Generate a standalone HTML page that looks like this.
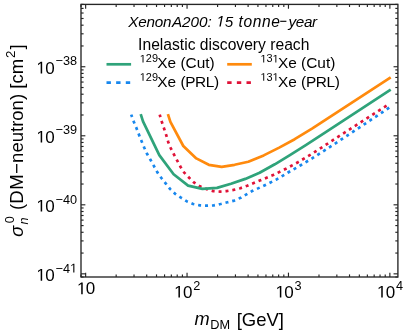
<!DOCTYPE html>
<html><head><meta charset="utf-8"><title>plot</title>
<style>html,body{margin:0;padding:0;background:#fff;}svg{display:block;will-change:transform;}text{font-family:"Liberation Sans",sans-serif;fill:#000;}</style>
</head><body>
<svg width="407" height="335" viewBox="0 0 407 335">
<rect x="0" y="0" width="407" height="335" fill="#ffffff"/>
<path d="M131.20,114.60 L133.80,121.70 L136.50,128.20 L139.00,134.80 L141.70,141.50 L144.20,147.50 L147.10,154.00 L150.60,160.00 L154.00,166.20 L157.40,172.40 L161.40,178.00 L165.80,183.60 L170.20,189.10 L175.10,193.80 L181.00,197.70 L187.00,201.40 L193.10,204.00 L199.90,205.40 L206.80,205.70 L213.70,205.40 L220.60,204.00 L227.50,202.30 L234.30,200.60 L241.20,197.50 L251.60,191.30 L263.70,185.80 L275.90,179.80 L288.10,172.50 L300.20,165.50 L312.40,158.20 L324.60,150.40 L337.40,142.10 L389.50,107.50" fill="none" stroke="#1787ee" stroke-width="2.7" stroke-linejoin="round" stroke-linecap="butt" stroke-dasharray="3.0 3.925" stroke-dashoffset="0.4"/>
<path d="M159.70,114.60 L161.90,122.00 L164.10,128.60 L166.30,135.30 L168.20,141.90 L170.70,148.10 L173.90,154.40 L177.20,160.60 L180.60,167.00 L184.20,172.60 L189.10,177.70 L193.80,182.40 L199.90,186.30 L206.50,189.10 L213.20,191.10 L220.10,191.60 L226.60,191.10 L233.50,189.90 L240.40,188.20 L247.20,185.80 L260.40,180.30 L273.70,174.80 L285.90,168.80 L298.00,162.20 L310.20,154.90 L322.40,147.10 L333.00,140.10 L388.50,104.40" fill="none" stroke="#e01237" stroke-width="2.7" stroke-linejoin="round" stroke-linecap="butt" stroke-dasharray="3.0 3.945" stroke-dashoffset="0.4"/>
<path d="M140.70,114.10 L143.00,121.40 L159.30,155.10 L173.60,174.30 L188.10,185.60 L202.40,188.90 L217.00,187.90 L231.00,183.80 L245.30,178.90 L259.60,172.80 L274.80,164.30 L290.30,154.80 L305.80,145.10 L325.00,132.70 L390.70,89.65" fill="none" stroke="#2fa37a" stroke-width="2.7" stroke-linejoin="round" stroke-linecap="butt"/>
<path d="M167.90,114.10 L170.40,121.90 L183.30,146.00 L196.30,158.40 L208.80,164.80 L221.70,166.80 L234.60,164.80 L248.30,161.80 L263.70,155.40 L279.20,147.60 L294.70,139.20 L312.00,128.70 L390.70,77.45" fill="none" stroke="#ff8a0d" stroke-width="2.7" stroke-linejoin="round" stroke-linecap="butt"/>
<line x1="81.00" y1="277.00" x2="81.00" y2="274.40" stroke="#262626" stroke-width="1.15"/>
<line x1="81.00" y1="4.40" x2="81.00" y2="7.00" stroke="#262626" stroke-width="1.15"/>
<line x1="85.64" y1="277.00" x2="85.64" y2="272.65" stroke="#262626" stroke-width="1.15"/>
<line x1="85.64" y1="4.40" x2="85.64" y2="8.75" stroke="#262626" stroke-width="1.15"/>
<line x1="116.17" y1="277.00" x2="116.17" y2="274.40" stroke="#262626" stroke-width="1.15"/>
<line x1="116.17" y1="4.40" x2="116.17" y2="7.00" stroke="#262626" stroke-width="1.15"/>
<line x1="134.03" y1="277.00" x2="134.03" y2="274.40" stroke="#262626" stroke-width="1.15"/>
<line x1="134.03" y1="4.40" x2="134.03" y2="7.00" stroke="#262626" stroke-width="1.15"/>
<line x1="146.70" y1="277.00" x2="146.70" y2="274.40" stroke="#262626" stroke-width="1.15"/>
<line x1="146.70" y1="4.40" x2="146.70" y2="7.00" stroke="#262626" stroke-width="1.15"/>
<line x1="156.52" y1="277.00" x2="156.52" y2="274.40" stroke="#262626" stroke-width="1.15"/>
<line x1="156.52" y1="4.40" x2="156.52" y2="7.00" stroke="#262626" stroke-width="1.15"/>
<line x1="164.55" y1="277.00" x2="164.55" y2="274.40" stroke="#262626" stroke-width="1.15"/>
<line x1="164.55" y1="4.40" x2="164.55" y2="7.00" stroke="#262626" stroke-width="1.15"/>
<line x1="171.34" y1="277.00" x2="171.34" y2="274.40" stroke="#262626" stroke-width="1.15"/>
<line x1="171.34" y1="4.40" x2="171.34" y2="7.00" stroke="#262626" stroke-width="1.15"/>
<line x1="177.22" y1="277.00" x2="177.22" y2="274.40" stroke="#262626" stroke-width="1.15"/>
<line x1="177.22" y1="4.40" x2="177.22" y2="7.00" stroke="#262626" stroke-width="1.15"/>
<line x1="182.41" y1="277.00" x2="182.41" y2="274.40" stroke="#262626" stroke-width="1.15"/>
<line x1="182.41" y1="4.40" x2="182.41" y2="7.00" stroke="#262626" stroke-width="1.15"/>
<line x1="187.05" y1="277.00" x2="187.05" y2="272.65" stroke="#262626" stroke-width="1.15"/>
<line x1="187.05" y1="4.40" x2="187.05" y2="8.75" stroke="#262626" stroke-width="1.15"/>
<line x1="217.58" y1="277.00" x2="217.58" y2="274.40" stroke="#262626" stroke-width="1.15"/>
<line x1="217.58" y1="4.40" x2="217.58" y2="7.00" stroke="#262626" stroke-width="1.15"/>
<line x1="235.44" y1="277.00" x2="235.44" y2="274.40" stroke="#262626" stroke-width="1.15"/>
<line x1="235.44" y1="4.40" x2="235.44" y2="7.00" stroke="#262626" stroke-width="1.15"/>
<line x1="248.11" y1="277.00" x2="248.11" y2="274.40" stroke="#262626" stroke-width="1.15"/>
<line x1="248.11" y1="4.40" x2="248.11" y2="7.00" stroke="#262626" stroke-width="1.15"/>
<line x1="257.93" y1="277.00" x2="257.93" y2="274.40" stroke="#262626" stroke-width="1.15"/>
<line x1="257.93" y1="4.40" x2="257.93" y2="7.00" stroke="#262626" stroke-width="1.15"/>
<line x1="265.96" y1="277.00" x2="265.96" y2="274.40" stroke="#262626" stroke-width="1.15"/>
<line x1="265.96" y1="4.40" x2="265.96" y2="7.00" stroke="#262626" stroke-width="1.15"/>
<line x1="272.75" y1="277.00" x2="272.75" y2="274.40" stroke="#262626" stroke-width="1.15"/>
<line x1="272.75" y1="4.40" x2="272.75" y2="7.00" stroke="#262626" stroke-width="1.15"/>
<line x1="278.63" y1="277.00" x2="278.63" y2="274.40" stroke="#262626" stroke-width="1.15"/>
<line x1="278.63" y1="4.40" x2="278.63" y2="7.00" stroke="#262626" stroke-width="1.15"/>
<line x1="283.82" y1="277.00" x2="283.82" y2="274.40" stroke="#262626" stroke-width="1.15"/>
<line x1="283.82" y1="4.40" x2="283.82" y2="7.00" stroke="#262626" stroke-width="1.15"/>
<line x1="288.46" y1="277.00" x2="288.46" y2="272.65" stroke="#262626" stroke-width="1.15"/>
<line x1="288.46" y1="4.40" x2="288.46" y2="8.75" stroke="#262626" stroke-width="1.15"/>
<line x1="318.99" y1="277.00" x2="318.99" y2="274.40" stroke="#262626" stroke-width="1.15"/>
<line x1="318.99" y1="4.40" x2="318.99" y2="7.00" stroke="#262626" stroke-width="1.15"/>
<line x1="336.85" y1="277.00" x2="336.85" y2="274.40" stroke="#262626" stroke-width="1.15"/>
<line x1="336.85" y1="4.40" x2="336.85" y2="7.00" stroke="#262626" stroke-width="1.15"/>
<line x1="349.52" y1="277.00" x2="349.52" y2="274.40" stroke="#262626" stroke-width="1.15"/>
<line x1="349.52" y1="4.40" x2="349.52" y2="7.00" stroke="#262626" stroke-width="1.15"/>
<line x1="359.34" y1="277.00" x2="359.34" y2="274.40" stroke="#262626" stroke-width="1.15"/>
<line x1="359.34" y1="4.40" x2="359.34" y2="7.00" stroke="#262626" stroke-width="1.15"/>
<line x1="367.37" y1="277.00" x2="367.37" y2="274.40" stroke="#262626" stroke-width="1.15"/>
<line x1="367.37" y1="4.40" x2="367.37" y2="7.00" stroke="#262626" stroke-width="1.15"/>
<line x1="374.16" y1="277.00" x2="374.16" y2="274.40" stroke="#262626" stroke-width="1.15"/>
<line x1="374.16" y1="4.40" x2="374.16" y2="7.00" stroke="#262626" stroke-width="1.15"/>
<line x1="380.04" y1="277.00" x2="380.04" y2="274.40" stroke="#262626" stroke-width="1.15"/>
<line x1="380.04" y1="4.40" x2="380.04" y2="7.00" stroke="#262626" stroke-width="1.15"/>
<line x1="385.23" y1="277.00" x2="385.23" y2="274.40" stroke="#262626" stroke-width="1.15"/>
<line x1="385.23" y1="4.40" x2="385.23" y2="7.00" stroke="#262626" stroke-width="1.15"/>
<line x1="389.87" y1="277.00" x2="389.87" y2="272.65" stroke="#262626" stroke-width="1.15"/>
<line x1="389.87" y1="4.40" x2="389.87" y2="8.75" stroke="#262626" stroke-width="1.15"/>
<line x1="81.00" y1="277.00" x2="83.60" y2="277.00" stroke="#262626" stroke-width="1.15"/>
<line x1="397.90" y1="277.00" x2="395.30" y2="277.00" stroke="#262626" stroke-width="1.15"/>
<line x1="81.00" y1="273.84" x2="85.35" y2="273.84" stroke="#262626" stroke-width="1.15"/>
<line x1="397.90" y1="273.84" x2="393.55" y2="273.84" stroke="#262626" stroke-width="1.15"/>
<line x1="81.00" y1="253.06" x2="83.60" y2="253.06" stroke="#262626" stroke-width="1.15"/>
<line x1="397.90" y1="253.06" x2="395.30" y2="253.06" stroke="#262626" stroke-width="1.15"/>
<line x1="81.00" y1="240.90" x2="83.60" y2="240.90" stroke="#262626" stroke-width="1.15"/>
<line x1="397.90" y1="240.90" x2="395.30" y2="240.90" stroke="#262626" stroke-width="1.15"/>
<line x1="81.00" y1="232.28" x2="83.60" y2="232.28" stroke="#262626" stroke-width="1.15"/>
<line x1="397.90" y1="232.28" x2="395.30" y2="232.28" stroke="#262626" stroke-width="1.15"/>
<line x1="81.00" y1="225.59" x2="83.60" y2="225.59" stroke="#262626" stroke-width="1.15"/>
<line x1="397.90" y1="225.59" x2="395.30" y2="225.59" stroke="#262626" stroke-width="1.15"/>
<line x1="81.00" y1="220.12" x2="83.60" y2="220.12" stroke="#262626" stroke-width="1.15"/>
<line x1="397.90" y1="220.12" x2="395.30" y2="220.12" stroke="#262626" stroke-width="1.15"/>
<line x1="81.00" y1="215.50" x2="83.60" y2="215.50" stroke="#262626" stroke-width="1.15"/>
<line x1="397.90" y1="215.50" x2="395.30" y2="215.50" stroke="#262626" stroke-width="1.15"/>
<line x1="81.00" y1="211.50" x2="83.60" y2="211.50" stroke="#262626" stroke-width="1.15"/>
<line x1="397.90" y1="211.50" x2="395.30" y2="211.50" stroke="#262626" stroke-width="1.15"/>
<line x1="81.00" y1="207.97" x2="83.60" y2="207.97" stroke="#262626" stroke-width="1.15"/>
<line x1="397.90" y1="207.97" x2="395.30" y2="207.97" stroke="#262626" stroke-width="1.15"/>
<line x1="81.00" y1="204.81" x2="85.35" y2="204.81" stroke="#262626" stroke-width="1.15"/>
<line x1="397.90" y1="204.81" x2="393.55" y2="204.81" stroke="#262626" stroke-width="1.15"/>
<line x1="81.00" y1="184.03" x2="83.60" y2="184.03" stroke="#262626" stroke-width="1.15"/>
<line x1="397.90" y1="184.03" x2="395.30" y2="184.03" stroke="#262626" stroke-width="1.15"/>
<line x1="81.00" y1="171.87" x2="83.60" y2="171.87" stroke="#262626" stroke-width="1.15"/>
<line x1="397.90" y1="171.87" x2="395.30" y2="171.87" stroke="#262626" stroke-width="1.15"/>
<line x1="81.00" y1="163.25" x2="83.60" y2="163.25" stroke="#262626" stroke-width="1.15"/>
<line x1="397.90" y1="163.25" x2="395.30" y2="163.25" stroke="#262626" stroke-width="1.15"/>
<line x1="81.00" y1="156.56" x2="83.60" y2="156.56" stroke="#262626" stroke-width="1.15"/>
<line x1="397.90" y1="156.56" x2="395.30" y2="156.56" stroke="#262626" stroke-width="1.15"/>
<line x1="81.00" y1="151.09" x2="83.60" y2="151.09" stroke="#262626" stroke-width="1.15"/>
<line x1="397.90" y1="151.09" x2="395.30" y2="151.09" stroke="#262626" stroke-width="1.15"/>
<line x1="81.00" y1="146.47" x2="83.60" y2="146.47" stroke="#262626" stroke-width="1.15"/>
<line x1="397.90" y1="146.47" x2="395.30" y2="146.47" stroke="#262626" stroke-width="1.15"/>
<line x1="81.00" y1="142.47" x2="83.60" y2="142.47" stroke="#262626" stroke-width="1.15"/>
<line x1="397.90" y1="142.47" x2="395.30" y2="142.47" stroke="#262626" stroke-width="1.15"/>
<line x1="81.00" y1="138.93" x2="83.60" y2="138.93" stroke="#262626" stroke-width="1.15"/>
<line x1="397.90" y1="138.93" x2="395.30" y2="138.93" stroke="#262626" stroke-width="1.15"/>
<line x1="81.00" y1="135.78" x2="85.35" y2="135.78" stroke="#262626" stroke-width="1.15"/>
<line x1="397.90" y1="135.78" x2="393.55" y2="135.78" stroke="#262626" stroke-width="1.15"/>
<line x1="81.00" y1="114.99" x2="83.60" y2="114.99" stroke="#262626" stroke-width="1.15"/>
<line x1="397.90" y1="114.99" x2="395.30" y2="114.99" stroke="#262626" stroke-width="1.15"/>
<line x1="81.00" y1="102.84" x2="83.60" y2="102.84" stroke="#262626" stroke-width="1.15"/>
<line x1="397.90" y1="102.84" x2="395.30" y2="102.84" stroke="#262626" stroke-width="1.15"/>
<line x1="81.00" y1="94.21" x2="83.60" y2="94.21" stroke="#262626" stroke-width="1.15"/>
<line x1="397.90" y1="94.21" x2="395.30" y2="94.21" stroke="#262626" stroke-width="1.15"/>
<line x1="81.00" y1="87.52" x2="83.60" y2="87.52" stroke="#262626" stroke-width="1.15"/>
<line x1="397.90" y1="87.52" x2="395.30" y2="87.52" stroke="#262626" stroke-width="1.15"/>
<line x1="81.00" y1="82.06" x2="83.60" y2="82.06" stroke="#262626" stroke-width="1.15"/>
<line x1="397.90" y1="82.06" x2="395.30" y2="82.06" stroke="#262626" stroke-width="1.15"/>
<line x1="81.00" y1="77.44" x2="83.60" y2="77.44" stroke="#262626" stroke-width="1.15"/>
<line x1="397.90" y1="77.44" x2="395.30" y2="77.44" stroke="#262626" stroke-width="1.15"/>
<line x1="81.00" y1="73.43" x2="83.60" y2="73.43" stroke="#262626" stroke-width="1.15"/>
<line x1="397.90" y1="73.43" x2="395.30" y2="73.43" stroke="#262626" stroke-width="1.15"/>
<line x1="81.00" y1="69.90" x2="83.60" y2="69.90" stroke="#262626" stroke-width="1.15"/>
<line x1="397.90" y1="69.90" x2="395.30" y2="69.90" stroke="#262626" stroke-width="1.15"/>
<line x1="81.00" y1="66.74" x2="85.35" y2="66.74" stroke="#262626" stroke-width="1.15"/>
<line x1="397.90" y1="66.74" x2="393.55" y2="66.74" stroke="#262626" stroke-width="1.15"/>
<line x1="81.00" y1="45.96" x2="83.60" y2="45.96" stroke="#262626" stroke-width="1.15"/>
<line x1="397.90" y1="45.96" x2="395.30" y2="45.96" stroke="#262626" stroke-width="1.15"/>
<line x1="81.00" y1="33.81" x2="83.60" y2="33.81" stroke="#262626" stroke-width="1.15"/>
<line x1="397.90" y1="33.81" x2="395.30" y2="33.81" stroke="#262626" stroke-width="1.15"/>
<line x1="81.00" y1="25.18" x2="83.60" y2="25.18" stroke="#262626" stroke-width="1.15"/>
<line x1="397.90" y1="25.18" x2="395.30" y2="25.18" stroke="#262626" stroke-width="1.15"/>
<line x1="81.00" y1="18.49" x2="83.60" y2="18.49" stroke="#262626" stroke-width="1.15"/>
<line x1="397.90" y1="18.49" x2="395.30" y2="18.49" stroke="#262626" stroke-width="1.15"/>
<line x1="81.00" y1="13.02" x2="83.60" y2="13.02" stroke="#262626" stroke-width="1.15"/>
<line x1="397.90" y1="13.02" x2="395.30" y2="13.02" stroke="#262626" stroke-width="1.15"/>
<line x1="81.00" y1="8.40" x2="83.60" y2="8.40" stroke="#262626" stroke-width="1.15"/>
<line x1="397.90" y1="8.40" x2="395.30" y2="8.40" stroke="#262626" stroke-width="1.15"/>
<line x1="81.00" y1="4.40" x2="83.60" y2="4.40" stroke="#262626" stroke-width="1.15"/>
<line x1="397.90" y1="4.40" x2="395.30" y2="4.40" stroke="#262626" stroke-width="1.15"/>
<rect x="81.0" y="4.4" width="316.90" height="272.60" fill="none" stroke="#262626" stroke-width="1.35"/>
<path d="M40.67,73.54 L40.67,63.27 L38.03,65.16 L38.03,63.75 L40.80,61.85 L42.17,61.85 L42.17,73.54Z" fill="#000"/>
<text x="45.15" y="73.54" font-size="17.0">0</text>
<text x="55.6" y="65.44" font-size="12.7">−38</text>
<path d="M40.67,142.58 L40.67,132.31 L38.03,134.19 L38.03,132.78 L40.80,130.88 L42.17,130.88 L42.17,142.58Z" fill="#000"/>
<text x="45.15" y="142.58" font-size="17.0">0</text>
<text x="55.6" y="134.48" font-size="12.7">−39</text>
<path d="M40.67,211.61 L40.67,201.34 L38.03,203.22 L38.03,201.81 L40.80,199.91 L42.17,199.91 L42.17,211.61Z" fill="#000"/>
<text x="45.15" y="211.61" font-size="17.0">0</text>
<text x="55.6" y="203.51" font-size="12.7">−40</text>
<path d="M40.67,280.64 L40.67,270.37 L38.03,272.26 L38.03,270.85 L40.80,268.95 L42.17,268.95 L42.17,280.64Z" fill="#000"/>
<text x="45.15" y="280.64" font-size="17.0">0</text>
<text x="55.6" y="272.54" font-size="12.7">−4</text>
<path d="M73.27,272.54 L73.27,264.87 L71.30,266.28 L71.30,265.22 L73.36,263.80 L74.39,263.80 L74.39,272.54Z" fill="#000"/>
<path d="M81.21,294.20 L81.21,283.93 L78.57,285.82 L78.57,284.41 L81.34,282.50 L82.72,282.50 L82.72,294.20Z" fill="#000"/>
<text x="85.69" y="294.20" font-size="17.0">0</text>
<path d="M178.43,297.60 L178.43,287.33 L175.79,289.22 L175.79,287.81 L178.55,285.90 L179.93,285.90 L179.93,297.60Z" fill="#000"/>
<text x="182.90" y="297.60" font-size="17.0">0</text>
<text x="193.20" y="289.7" font-size="12.7">2</text>
<path d="M279.84,297.60 L279.84,287.33 L277.20,289.22 L277.20,287.81 L279.96,285.90 L281.34,285.90 L281.34,297.60Z" fill="#000"/>
<text x="284.31" y="297.60" font-size="17.0">0</text>
<text x="294.61" y="289.7" font-size="12.7">3</text>
<path d="M381.25,297.60 L381.25,287.33 L378.61,289.22 L378.61,287.81 L381.37,285.90 L382.75,285.90 L382.75,297.60Z" fill="#000"/>
<text x="385.72" y="297.60" font-size="17.0">0</text>
<text x="396.02" y="289.7" font-size="12.7">4</text>
<text x="128.30" y="26.5" font-size="15.25" font-style="italic" letter-spacing="-0.2">Xenon</text>
<text x="171.90" y="26.5" font-size="15.25" font-style="italic">A200:</text>
<path d="M219.37,26.50 L221.14,17.39 L218.45,19.05 L218.71,17.71 L221.52,16.01 L222.76,16.01 L220.72,26.50Z" fill="#000"/>
<text x="224.78" y="26.5" font-size="15.25" font-style="italic">5</text>
<text x="238.60" y="26.5" font-size="15.6" font-style="italic" letter-spacing="0.55">tonne</text>
<rect x="280.2" y="20.75" width="6.2" height="1.1" fill="#000"/>
<text x="288.60" y="26.5" font-size="15.25" font-style="italic" letter-spacing="-0.4">year</text>
<text x="138.1" y="49.5" font-size="15.65">Inelastic discovery reach</text>
<line x1="106.50" y1="64.30" x2="131.10" y2="64.30" stroke="#2fa37a" stroke-width="2.7"/>
<path d="M142.54,62.40 L142.54,55.82 L140.85,57.02 L140.85,56.12 L142.62,54.90 L143.50,54.90 L143.50,62.40Z" fill="#000"/>
<text x="145.86" y="62.40" font-size="10.9">29</text>
<text x="157.30" y="68.30" font-size="15.4">Xe <tspan>(Cut)</tspan></text>
<line x1="106.50" y1="82.55" x2="131.10" y2="82.55" stroke="#1787ee" stroke-width="2.7" stroke-dasharray="4.4 5.25"/>
<path d="M142.54,80.65 L142.54,74.07 L140.85,75.27 L140.85,74.37 L142.62,73.15 L143.50,73.15 L143.50,80.65Z" fill="#000"/>
<text x="145.86" y="80.65" font-size="10.9">29</text>
<text x="157.30" y="86.55" font-size="15.4">Xe <tspan letter-spacing="-0.35">(PRL)</tspan></text>
<line x1="227.20" y1="64.30" x2="251.80" y2="64.30" stroke="#ff8a0d" stroke-width="2.7"/>
<path d="M263.24,62.40 L263.24,55.82 L261.55,57.02 L261.55,56.12 L263.32,54.90 L264.20,54.90 L264.20,62.40Z" fill="#000"/>
<text x="266.56" y="62.40" font-size="10.9">3</text>
<path d="M275.37,62.40 L275.37,55.82 L273.67,57.02 L273.67,56.12 L275.44,54.90 L276.33,54.90 L276.33,62.40Z" fill="#000"/>
<text x="278.00" y="68.30" font-size="15.4">Xe <tspan>(Cut)</tspan></text>
<line x1="227.20" y1="82.55" x2="251.80" y2="82.55" stroke="#e01237" stroke-width="2.7" stroke-dasharray="4.4 5.25"/>
<path d="M263.24,80.65 L263.24,74.07 L261.55,75.27 L261.55,74.37 L263.32,73.15 L264.20,73.15 L264.20,80.65Z" fill="#000"/>
<text x="266.56" y="80.65" font-size="10.9">3</text>
<path d="M275.37,80.65 L275.37,74.07 L273.67,75.27 L273.67,74.37 L275.44,73.15 L276.33,73.15 L276.33,80.65Z" fill="#000"/>
<text x="278.00" y="86.55" font-size="15.4">Xe <tspan letter-spacing="-0.35">(PRL)</tspan></text>
<text x="194.5" y="325.2" font-size="18.2" font-style="italic">m</text>
<text x="210.3" y="328.6" font-size="12.74">DM</text>
<text x="236.7" y="325.5" font-size="18.5">[GeV]</text>
<g transform="translate(22.0,236.0) rotate(-90)">
<text x="-0.8" y="1.1" font-size="18.2" font-style="italic">σ</text>
<text x="12.8" y="-8.0" font-size="12.74">0</text>
<text x="11.4" y="6.2" font-size="12.74" font-style="italic">n</text>
<text x="26.0" y="0.8" font-size="18.55">(D<tspan dx="0.7">M</tspan><tspan dx="0.3">−</tspan><tspan dx="0.25">neutron) [cm</tspan></text>
<text x="178.0" y="-7.3" font-size="13.36">2</text>
<text x="186.6" y="0.8" font-size="18.55">]</text>
</g>
</svg>
</body></html>
